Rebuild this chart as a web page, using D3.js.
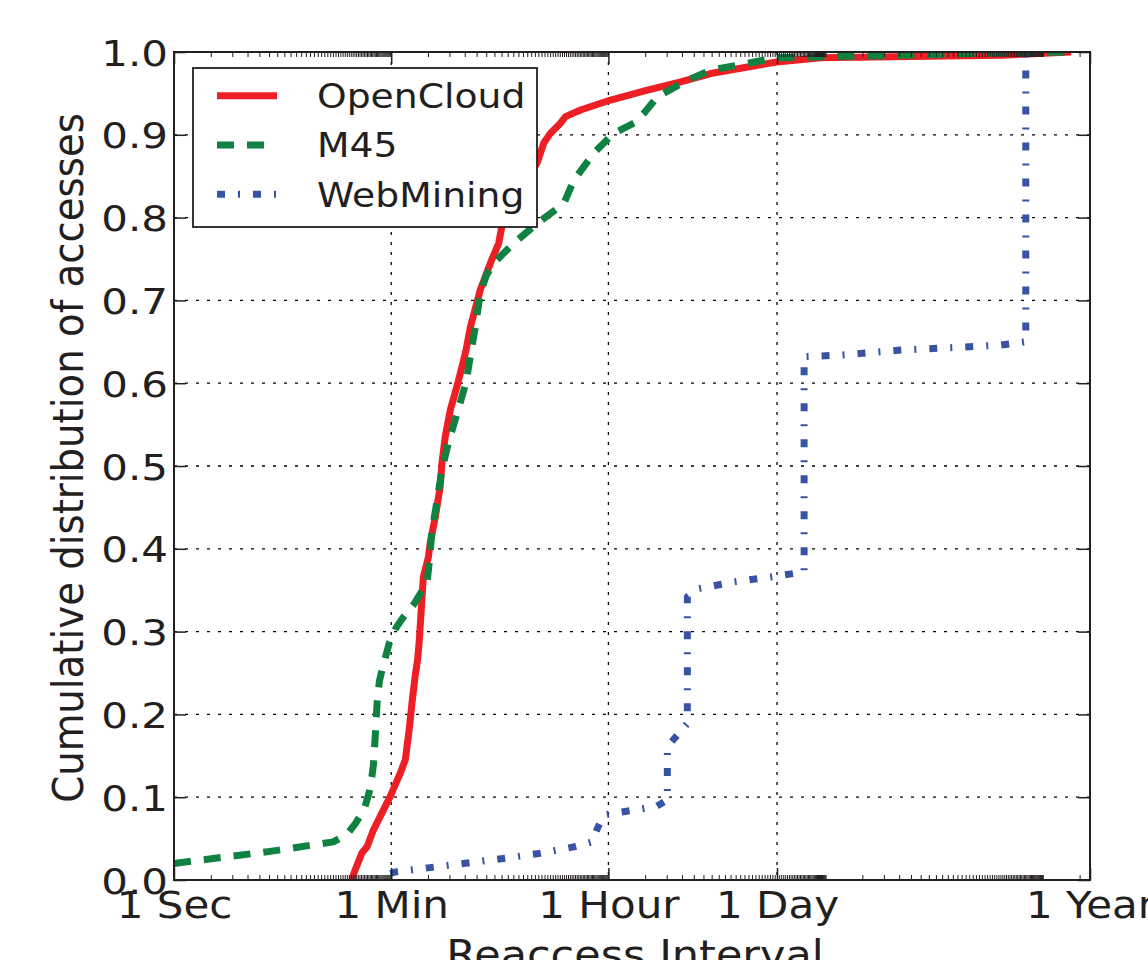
<!DOCTYPE html>
<html><head><meta charset="utf-8">
<script src="https://cdn.jsdelivr.net/npm/d3@7"></script>
<style>
html,body{margin:0;padding:0;background:#fff;}
svg{display:block;}
text{font-family:"DejaVu Sans";fill:#231f20;}
</style>
</head><body>
<svg id="chart" width="1148" height="960"></svg>
<script>
// ---- data ----
const seriesNames = ["OpenCloud", "M45", "WebMining"];
const xTickValues = [1, 60, 3600, 86400, 31536000];
const xTickLabels = ["1 Sec", "1 Min", "1 Hour", "1 Day", "1 Year"];
const yTickValues = [0, 0.1, 0.2, 0.3, 0.4, 0.5, 0.6, 0.7, 0.8, 0.9, 1.0];
const yTickLabels = ["0.0", "0.1", "0.2", "0.3", "0.4", "0.5", "0.6", "0.7", "0.8", "0.9", "1.0"];
const xTitle = "Reaccess Interval";
const yTitle = "Cumulative distribution of accesses";

// reaccess interval (seconds) and cumulative fraction
const openCloudSeconds = [28.5, 30, 34.6, 38, 42.8, 50.4, 58.9, 71.2, 78.2, 84, 88.8, 94, 98.6, 102, 105, 110, 121, 125, 138, 151, 156, 166, 183, 207, 228, 246, 267, 322, 389, 455, 500, 690, 940, 1064, 1208, 1459, 1603, 2128, 3750, 7500, 14060, 24740, 85900, 197000, 5890000, 22100000];
const openCloudCdf = [0, 0.01, 0.033, 0.04, 0.06, 0.081, 0.101, 0.129, 0.145, 0.18, 0.214, 0.245, 0.266, 0.29, 0.32, 0.366, 0.39, 0.407, 0.439, 0.475, 0.503, 0.535, 0.568, 0.596, 0.62, 0.64, 0.668, 0.713, 0.745, 0.769, 0.801, 0.835, 0.866, 0.89, 0.902, 0.914, 0.922, 0.93, 0.942, 0.954, 0.964, 0.974, 0.988, 0.993, 0.996, 1.0];

const m45Seconds = [1, 1.63, 5.75, 20.1, 26, 30.5, 36, 39.5, 41.7, 43, 44.5, 46, 48, 50.7, 57.8, 66, 76.8, 92, 106, 118, 123, 129, 142, 156, 177, 210, 247, 270, 293, 322, 360, 414, 604, 940, 1553, 1875, 2734, 3990, 5820, 7030, 9060, 15940, 24740, 85900, 893000, 5890000, 22100000];
const m45Cdf = [0.02, 0.024, 0.034, 0.046, 0.055, 0.068, 0.085, 0.105, 0.125, 0.14, 0.176, 0.214, 0.24, 0.255, 0.286, 0.305, 0.319, 0.333, 0.348, 0.36, 0.384, 0.42, 0.457, 0.495, 0.529, 0.566, 0.602, 0.638, 0.668, 0.709, 0.73, 0.745, 0.769, 0.793, 0.817, 0.845, 0.878, 0.902, 0.914, 0.926, 0.946, 0.966, 0.978, 0.993, 0.996, 0.999, 1.0];

const webMiningSeconds = [58.9, 66.9, 497, 968, 1875, 2652, 2916, 3305, 4527, 8770, 10930, 10930, 13200, 15940, 15940, 19850, 38400, 76800, 144000, 144000, 288000, 893000, 5890000, 9400000, 9400000];
const webMiningCdf = [0.008, 0.01, 0.026, 0.032, 0.04, 0.046, 0.062, 0.0785, 0.082, 0.0885, 0.0966, 0.161, 0.175, 0.189, 0.342, 0.352, 0.36, 0.366, 0.372, 0.632, 0.634, 0.64, 0.646, 0.65, 1.0];

// ---- layout ----
const L = 174, R = 1090, T = 52, B = 880;
const ink = "#231f20";
const colors = ["#ed1f24", "#0f8140", "#3853a4"];
const dashes = [null, "17,13", "8,13,2,13"];

const svg = d3.select("#chart");
const x = d3.scaleLog().domain([1, 31536000]).range([L, R]);
const y = d3.scaleLinear().domain([0, 1]).range([B, T]);

// minor ticks: multiples of powers of 60
const xMinor = [];
for (let n = 0; n <= 4; n++) for (let k = 1; k < 60; k++) {
  const v = k * Math.pow(60, n);
  if (v <= 31536000 && !xTickValues.includes(v)) xMinor.push(v);
}

// grid
const grid = svg.append("g");
grid.selectAll("line.h").data(yTickValues.slice(1, -1)).join("line").attr("class", "h")
  .attr("x1", L).attr("x2", R).attr("y1", d => y(d)).attr("y2", d => y(d))
  .attr("stroke", "#000").attr("stroke-width", 1.3).attr("stroke-dasharray", "3,8");
grid.selectAll("line.v").data(xTickValues.slice(1, -1)).join("line").attr("class", "v")
  .attr("x1", d => x(d)).attr("x2", d => x(d)).attr("y1", T).attr("y2", B)
  .attr("stroke", "#000").attr("stroke-width", 1.3).attr("stroke-dasharray", "3,7");

// clipped data lines
svg.append("clipPath").attr("id", "plot").append("rect")
  .attr("x", L).attr("y", T).attr("width", R - L).attr("height", B - T);
const series = [
  openCloudSeconds.map((s, i) => [s, openCloudCdf[i]]),
  m45Seconds.map((s, i) => [s, m45Cdf[i]]),
  webMiningSeconds.map((s, i) => [s, webMiningCdf[i]])
];
const line = d3.line().x(d => x(d[0])).y(d => y(d[1]));
const lg = svg.append("g").attr("clip-path", "url(#plot)");
[0, 1, 2].forEach(i => {
  lg.append("path").datum(series[i]).attr("d", line)
    .attr("fill", "none").attr("stroke", colors[i]).attr("stroke-width", 7)
    .attr("stroke-linejoin", "round")
    .attr("stroke-dasharray", dashes[i]);
});

// axes
function tidy(g, w) {
  g.select(".domain").remove();
  g.selectAll("line").attr("stroke", ink).attr("stroke-width", w);
}
svg.append("g").attr("transform", `translate(0,${B})`)
  .call(d3.axisBottom(x).tickValues(xMinor).tickSize(-5).tickFormat(""))
  .call(g => tidy(g, 1));
svg.append("g").attr("transform", `translate(0,${T})`)
  .call(d3.axisTop(x).tickValues(xMinor).tickSize(-5).tickFormat(""))
  .call(g => tidy(g, 1));
svg.append("g").attr("transform", `translate(0,${T})`)
  .call(d3.axisTop(x).tickValues(xTickValues).tickSize(-12).tickFormat(""))
  .call(g => tidy(g, 1.5));
const xb = svg.append("g").attr("transform", `translate(0,${B})`)
  .call(d3.axisBottom(x).tickValues(xTickValues).tickSize(-12).tickFormat((d, i) => xTickLabels[i]))
  .call(g => tidy(g, 1.5));
xb.selectAll("text").attr("y", null).attr("dy", null)
  .attr("transform", "translate(0,37.5) scale(1,0.88)")
  .style("font-size", "42px").attr("fill", ink);

const yl = svg.append("g").attr("transform", `translate(${L},0)`)
  .call(d3.axisLeft(y).tickValues(yTickValues).tickSize(-12).tickFormat((d, i) => yTickLabels[i]))
  .call(g => tidy(g, 1.5));
yl.selectAll("text").attr("x", null).attr("dy", null)
  .attr("transform", "translate(-6,13) scale(1,0.85)")
  .style("font-size", "42px").attr("fill", ink);
svg.append("g").attr("transform", `translate(${R},0)`)
  .call(d3.axisRight(y).tickValues(yTickValues).tickSize(-12).tickFormat(""))
  .call(g => tidy(g, 1.5));

// frame
svg.append("rect").attr("x", L).attr("y", T).attr("width", R - L).attr("height", B - T)
  .attr("fill", "none").attr("stroke", ink).attr("stroke-width", 2);

// titles
svg.append("text").attr("text-anchor", "middle")
  .attr("transform", "translate(635,968) scale(1,0.89)")
  .style("font-size", "43px").text(xTitle);
svg.append("text").attr("text-anchor", "middle")
  .attr("transform", "translate(83,458) rotate(-90) scale(0.9,1)")
  .style("font-size", "43px").text(yTitle);

// legend
const leg = svg.append("g");
leg.append("rect").attr("x", 193).attr("y", 68).attr("width", 344).attr("height", 159)
  .attr("fill", "#fff").attr("stroke", ink).attr("stroke-width", 1.8);
seriesNames.forEach((name, i) => {
  const cy = 95.7 + i * 49.3;
  leg.append("line").attr("x1", 217).attr("x2", 277).attr("y1", cy).attr("y2", cy)
    .attr("stroke", colors[i]).attr("stroke-width", 7).attr("stroke-dasharray", dashes[i]);
  leg.append("text").attr("transform", `translate(317,${cy + 12.3}) scale(1,0.88)`)
    .style("font-size", "37.7px").text(name);
});
</script>
</body></html>
